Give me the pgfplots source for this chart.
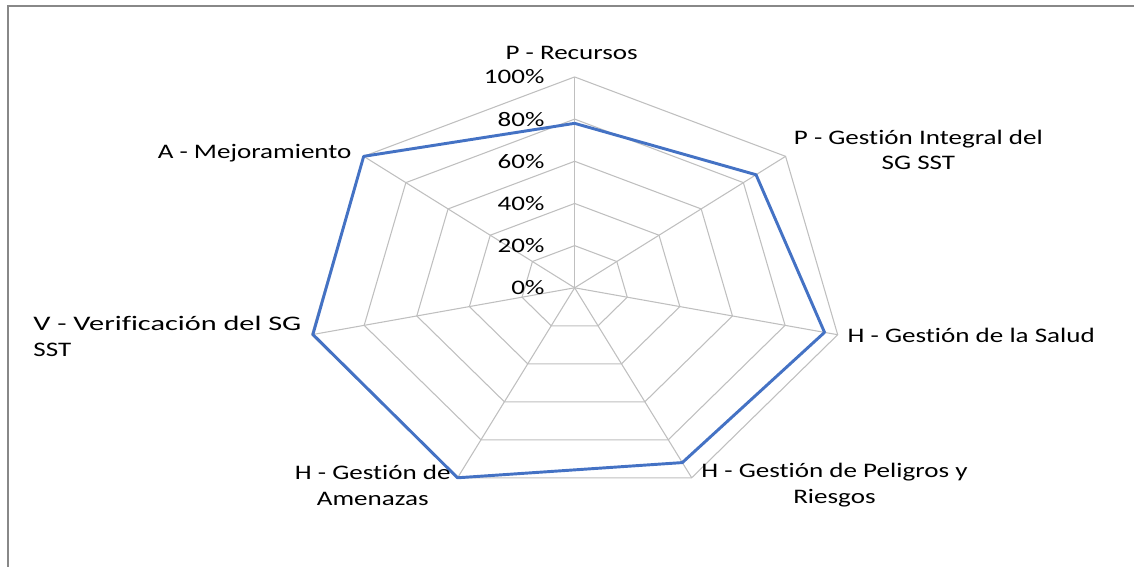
\documentclass[border=0pt]{standalone}
\usepackage{pgfplots}
\pgfplotsset{compat=1.18}
\usepackage{graphicx}
\usepackage{fontspec}
\setmainfont[FakeStretch=1.31, RawFeature={-liga}]{Carlito}
\definecolor{gridc}{HTML}{BFBFBF}
\definecolor{serie}{HTML}{4472C4}
\definecolor{framec}{HTML}{888888}
\newcommand\lf{\fontsize{15.5}{19.5}\selectfont}
\begin{document}
\lf
\begin{tikzpicture}[font=\lf]
\begin{axis}[scale only axis, width=851.25pt, height=425.25pt,
  xmin=-2.1296, xmax=2.0741, ymin=-1.3223, ymax=1.3649,
  axis lines=none, clip=false, data cs=polar]
% grid rings
\foreach \r in {0.2,0.4,0.6,0.8,1.0}{
  \edef\temp{\noexpand\addplot[gridc, line width=0.8pt, mark=none] coordinates {(90,\r) (38.5714,\r) (-12.8571,\r) (-64.2857,\r) (-115.7143,\r) (-167.1429,\r) (-218.5714,\r) (90,\r)};}
  \temp
}
% spokes
\foreach \a in {90,38.5714,-12.8571,-64.2857,-115.7143,-167.1429,-218.5714}{
  \edef\temp{\noexpand\addplot[gridc, line width=0.8pt, mark=none] coordinates {(\a,0) (\a,1)};}
  \temp
}
% data series
\addplot[serie, line width=2.2pt, mark=none, line join=round] coordinates {
  (90,0.78) (38.5714,0.86) (-12.8571,0.95) (-64.2857,0.92) (-115.7143,1.00) (-167.1429,0.995) (-218.5714,1.00) (90,0.78)};
% percent labels
\node[font=\lf, anchor=east, inner sep=0pt] at (axis cs:-0.111,0) {0\%};
\node[font=\lf, anchor=east, inner sep=0pt] at (axis cs:-0.111,0.2) {20\%};
\node[font=\lf, anchor=east, inner sep=0pt] at (axis cs:-0.111,0.4) {40\%};
\node[font=\lf, anchor=east, inner sep=0pt] at (axis cs:-0.111,0.6) {60\%};
\node[font=\lf, anchor=east, inner sep=0pt] at (axis cs:-0.111,0.8) {80\%};
\node[font=\lf, anchor=east, inner sep=0pt] at (axis cs:-0.111,1.0) {100\%};
% category labels
\node[font=\lf] at (axis cs:-0.011,1.114) {P - Recursos};
\node[font=\lf, align=center] at (axis cs:1.274,0.654) {P - Gestión Integral del\\SG SST};
\node[font=\lf, anchor=west, inner sep=0pt] at (axis cs:1.011,-0.2275) {H - Gestión de la Salud};
\node[font=\lf, align=center] at (axis cs:0.963,-0.934) {H - Gestión de Peligros y\\Riesgos};
\node[font=\lf, align=center] at (axis cs:-0.748,-0.938) {H - Gestión de\\Amenazas};
\node[font=\lf, align=left, anchor=west, inner sep=0pt] at (axis cs:-2.007,-0.232) {\scalebox{1.12}[1]{V - Verificación del SG}\\SST};
\node[font=\lf, anchor=east, inner sep=0pt] at (axis cs:-0.826,0.640) {A - Mejoramiento};
% frame and bounding box
\draw[framec, line width=1.1pt] (rel axis cs:0.00705,0) -- (rel axis cs:0.00705,0.9894) -- (rel axis cs:1,0.9894);
\path (rel axis cs:0,0) rectangle (rel axis cs:1,1);
\end{axis}
\end{tikzpicture}
\end{document}
